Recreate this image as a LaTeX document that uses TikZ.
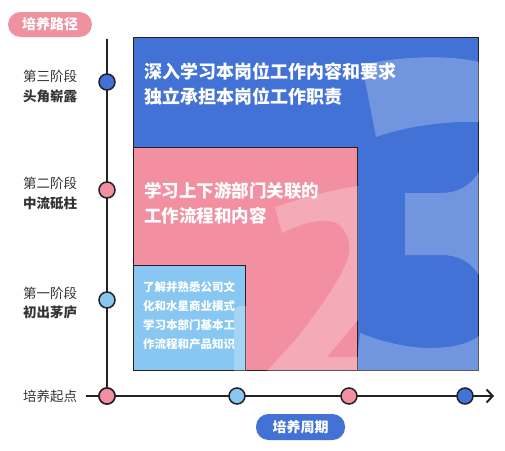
\documentclass[tikz,border=0pt]{standalone}
\usepackage{fontspec}
\setmainfont{Noto Sans CJK SC}
\usetikzlibrary{arrows.meta}
\definecolor{cblue}{RGB}{67,114,214}
\definecolor{cpink}{RGB}{242,143,160}
\definecolor{clblue}{RGB}{135,199,242}
\definecolor{cpill}{RGB}{240,145,160}
\definecolor{cdark}{RGB}{34,34,34}
\definecolor{ctext}{RGB}{51,51,51}
\begin{document}
\begin{tikzpicture}[x=1pt,y=-1pt,
  box/.style={draw=cdark, line width=1pt, anchor=north west, inner sep=0pt},
  dot/.style={circle, draw=cdark, line width=1.5pt, minimum size=16pt, inner sep=0pt},
  pill/.style={rounded corners=12.5pt, minimum height=25pt, inner sep=0pt, text=white,
    font=\fontsize{14}{14}\selectfont\bfseries},
  stagelbl/.style={text=ctext, inner sep=0pt, font=\fontsize{13.5}{16}\selectfont},
  stagebold/.style={text=ctext, inner sep=0pt, font=\fontsize{13.5}{16}\selectfont\bfseries},
  numshade/.style={fill=white, fill opacity=0.25},
  boxtext/.style={text=white, inner sep=0pt, anchor=west, align=left},
  axis/.style={draw=cdark, line width=2pt}
]
\useasboundingbox (0,0) rectangle (505,450);

% top pill
\node[pill, fill=cpill, minimum width=84pt] (pathpill) at (50,24.5) {培养路径};

% stage 3 box with large "3"
\node[box, fill=cblue, minimum width=345pt, minimum height=333pt] (s3) at (133,37) {};
\begin{scope}
  \clip (s3.north west) rectangle (s3.south east);
  \fill[numshade] (362,65) .. controls (395,57) and (445,54) .. (479,62)
    -- (479,122) .. controls (450,121) and (410,125) .. (376,137) -- cycle;
  \fill[numshade] (405,193) -- (440,193) .. controls (458,193) and (470,186) .. (479,172)
    -- (479,275) .. controls (470,261) and (458,255) .. (440,255) -- (405,255) -- cycle;
  \fill[numshade] (360,333) .. controls (385,343) and (410,348) .. (430,348)
    .. controls (452,348) and (468,344) .. (479,336) -- (479,371) -- (356,371) -- cycle;
\end{scope}

% stage 2 box with large "2"
\node[box, fill=cpink, minimum width=224pt, minimum height=223pt] (s2) at (133,147) {};
\begin{scope}
  \clip (s2.north west) rectangle (s2.south east);
  \fill[numshade] (275,207) .. controls (300,199) and (330,190) .. (358,186)
    -- (358,320) -- (327,357) -- (358,357) -- (358,371) -- (267,371)
    -- (298,337) .. controls (315,314) and (340,282) .. (348,258)
    .. controls (352,245) and (348,231) .. (337,223)
    .. controls (322,217) and (300,224) .. (282,233) -- cycle;
\end{scope}

% stage 1 box with large "1"
\node[box, fill=clblue, minimum width=112pt, minimum height=105pt] (s1) at (133,265) {};
\begin{scope}
  \clip (s1.north west) rectangle (s1.south east);
  \fill[numshade] (234,371) -- (234,314) .. controls (234,309) and (237,306) .. (242,306)
    -- (246,306) -- (246,371) -- cycle;
\end{scope}

% texts in boxes
\node[boxtext, font={\fontsize{18}{25}\selectfont\bfseries}] (t3) at (144,84.5)
  {深入学习本岗位工作内容和要求\\独立承担本岗位工作职责};
\node[boxtext, font={\fontsize{17.5}{25.5}\selectfont\bfseries}] (t2) at (144,203)
  {学习上下游部门关联的\\工作流程和内容};
\node[boxtext, font={\fontsize{11.5}{19}\selectfont\bfseries}] (t1) at (143,315.5)
  {了解并熟悉公司文\\化和水星商业模式\\学习本部门基本工\\作流程和产品知识};

% axes
\coordinate (ytop) at (107,39);
\coordinate (xleft) at (86,396);
\coordinate (xend) at (494,396);
\node[dot, fill=cpink] (o) at (107,396) {};
\draw[axis] (ytop) -- (o.north);
\draw[axis, -{Straight Barb[length=6pt,width=13pt]}] (xleft) -- (xend);

% dots
\node[dot, fill=cpink] (o2) at (107,396) {};
\node[dot, fill=cblue] (v3) at (107,82) {};
\node[dot, fill=cpink] (v2) at (107,190) {};
\node[dot, fill=clblue] (v1) at (107,300) {};
\node[dot, fill=clblue] (h1) at (237,396) {};
\node[dot, fill=cpink] (h2) at (349,396) {};
\node[dot, fill=cblue] (h3) at (465,396) {};

% stage labels
\node[stagelbl] (l3a) at (50,76) {第三阶段};
\node[stagebold] (l3b) at (50,96) {头角崭露};
\node[stagelbl] (l2a) at (50,183) {第二阶段};
\node[stagebold] (l2b) at (50,203) {中流砥柱};
\node[stagelbl] (l1a) at (50,293) {第一阶段};
\node[stagebold] (l1b) at (50,312.5) {初出茅庐};
\node[stagelbl] (l0) at (50,396) {培养起点};

% bottom pill
\node[pill, fill=cblue, minimum width=89pt, minimum height=26pt] (timepill) at (300.5,427) {培养周期};
\end{tikzpicture}
\end{document}
